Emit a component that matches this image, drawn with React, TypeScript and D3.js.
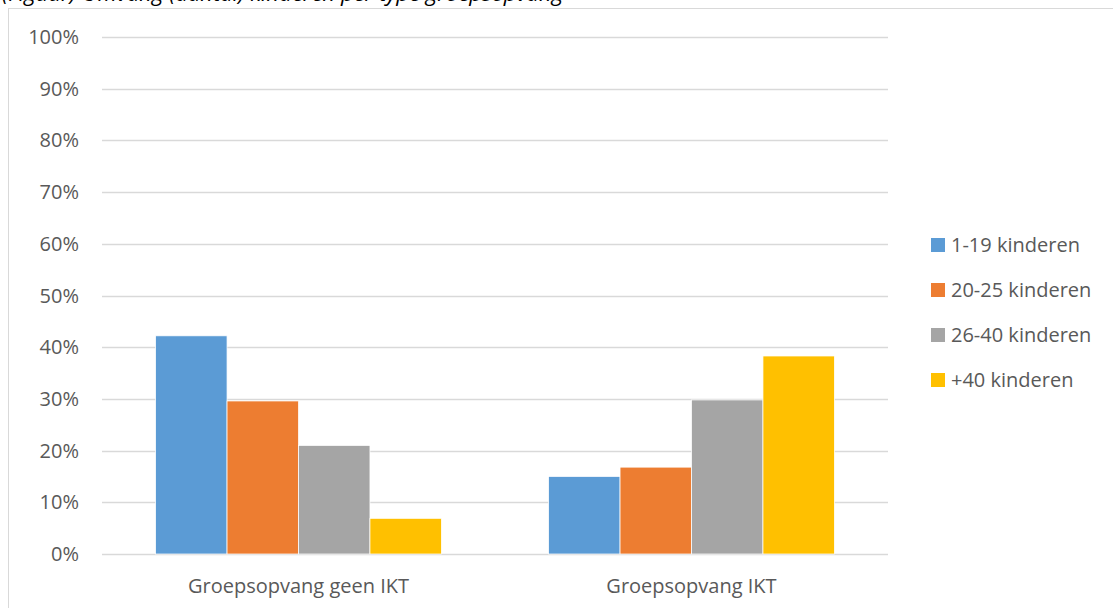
import React, { useEffect, useRef } from 'react';
import * as d3 from 'd3';

const groups = ['Groepsopvang geen IKT', 'Groepsopvang IKT'];
const seriesNames = ['1-19 kinderen', '20-25 kinderen', '26-40 kinderen', '+40 kinderen'];
const seriesColors = ['#5b9bd5', '#ed7d31', '#a5a5a5', '#ffc000'];
// values per series, one per group
const values1to19 = [42.2, 15.0];
const values20to25 = [29.6, 16.8];
const values26to40 = [21.0, 29.8];
const valuesPlus40 = [6.9, 38.3];
const yTicks = [0, 10, 20, 30, 40, 50, 60, 70, 80, 90, 100];
const captionText = '(Figuur) Omvang (aantal) kinderen per type groepsopvang';

const App: React.FC = () => {
  const svgRef = useRef<SVGSVGElement | null>(null);

  useEffect(() => {
    const width = 1113;
    const height = 608;
    const plot = { left: 102, right: 888, top: 37, bottom: 554 };
    const font = '"Open Sans", sans-serif';
    const fontSize = 20;

    const series = [values1to19, values20to25, values26to40, valuesPlus40];

    const svg = d3.select(svgRef.current)
      .attr('width', width)
      .attr('height', height);

    svg.selectAll('*').remove();

    // caption above the chart, cut off by the page edge
    svg.append('text')
      .attr('x', 2)
      .attr('y', 1)
      .attr('font-family', font)
      .attr('font-style', 'italic')
      .attr('font-size', 22)
      .attr('fill', '#000')
      .text(captionText);

    svg.append('rect')
      .attr('x', 0)
      .attr('y', 8)
      .attr('width', width)
      .attr('height', height)
      .attr('fill', '#fff');

    // chart frame
    svg.append('rect')
      .attr('x', 8.5)
      .attr('y', 8.5)
      .attr('width', width)
      .attr('height', height)
      .attr('fill', 'none')
      .attr('stroke', '#d9d9d9');

    const x0 = d3.scaleBand()
      .domain(groups)
      .range([plot.left, plot.right])
      .paddingInner(0)
      .paddingOuter(0);

    const x1 = d3.scaleBand()
      .domain(seriesNames)
      .range([0, x0.bandwidth()])
      .paddingInner(0)
      .paddingOuter(0.75);

    const y = d3.scaleLinear()
      .domain([0, 100])
      .range([plot.bottom, plot.top]);

    // gridlines
    svg.append('g')
      .selectAll('line')
      .data(yTicks)
      .join('line')
      .attr('x1', plot.left)
      .attr('x2', plot.right)
      .attr('y1', d => Math.round(y(d)) + 0.5)
      .attr('y2', d => Math.round(y(d)) + 0.5)
      .attr('stroke', '#d9d9d9')
      .attr('stroke-width', 1.5);

    // y labels
    svg.append('g')
      .selectAll('text')
      .data(yTicks)
      .join('text')
      .attr('x', 79)
      .attr('y', d => y(d))
      .attr('dy', '0.35em')
      .attr('text-anchor', 'end')
      .attr('font-family', font)
      .attr('font-size', fontSize)
      .attr('fill', '#595959')
      .text(d => `${d}%`);

    // bars
    const groupSel = svg.append('g')
      .selectAll('g')
      .data(groups)
      .join('g')
      .attr('transform', d => `translate(${x0(d)},0)`);

    groupSel.selectAll('rect')
      .data((_, gi) => seriesNames.map((name, si) => ({ name, si, value: series[si][gi] })))
      .join('rect')
      .attr('x', d => x1(d.name) as number)
      .attr('width', x1.bandwidth())
      .attr('y', d => y(d.value))
      .attr('height', d => y(0) - y(d.value))
      .attr('fill', d => seriesColors[d.si])
      .attr('stroke', '#fff')
      .attr('stroke-width', 0.75);

    // category labels
    svg.append('g')
      .selectAll('text')
      .data(groups)
      .join('text')
      .attr('x', d => (x0(d) as number) + x0.bandwidth() / 2)
      .attr('y', 586)
      .attr('dy', '0.35em')
      .attr('text-anchor', 'middle')
      .attr('font-family', font)
      .attr('font-size', fontSize)
      .attr('fill', '#595959')
      .text(d => d);

    // legend
    const legend = svg.append('g')
      .selectAll('g')
      .data(seriesNames)
      .join('g')
      .attr('transform', (_, i) => `translate(931,${245 + i * 45})`);

    legend.append('rect')
      .attr('x', 0)
      .attr('y', -7)
      .attr('width', 14)
      .attr('height', 14)
      .attr('fill', (_, i) => seriesColors[i]);

    legend.append('text')
      .attr('x', 20)
      .attr('y', 0)
      .attr('dy', '0.35em')
      .attr('font-family', font)
      .attr('font-size', fontSize)
      .attr('fill', '#595959')
      .text(d => d);
  }, []);

  return (
    <svg ref={svgRef} style={{ position: 'absolute', left: 0, top: 0, display: 'block' }}></svg>
  );
};

export default App;
